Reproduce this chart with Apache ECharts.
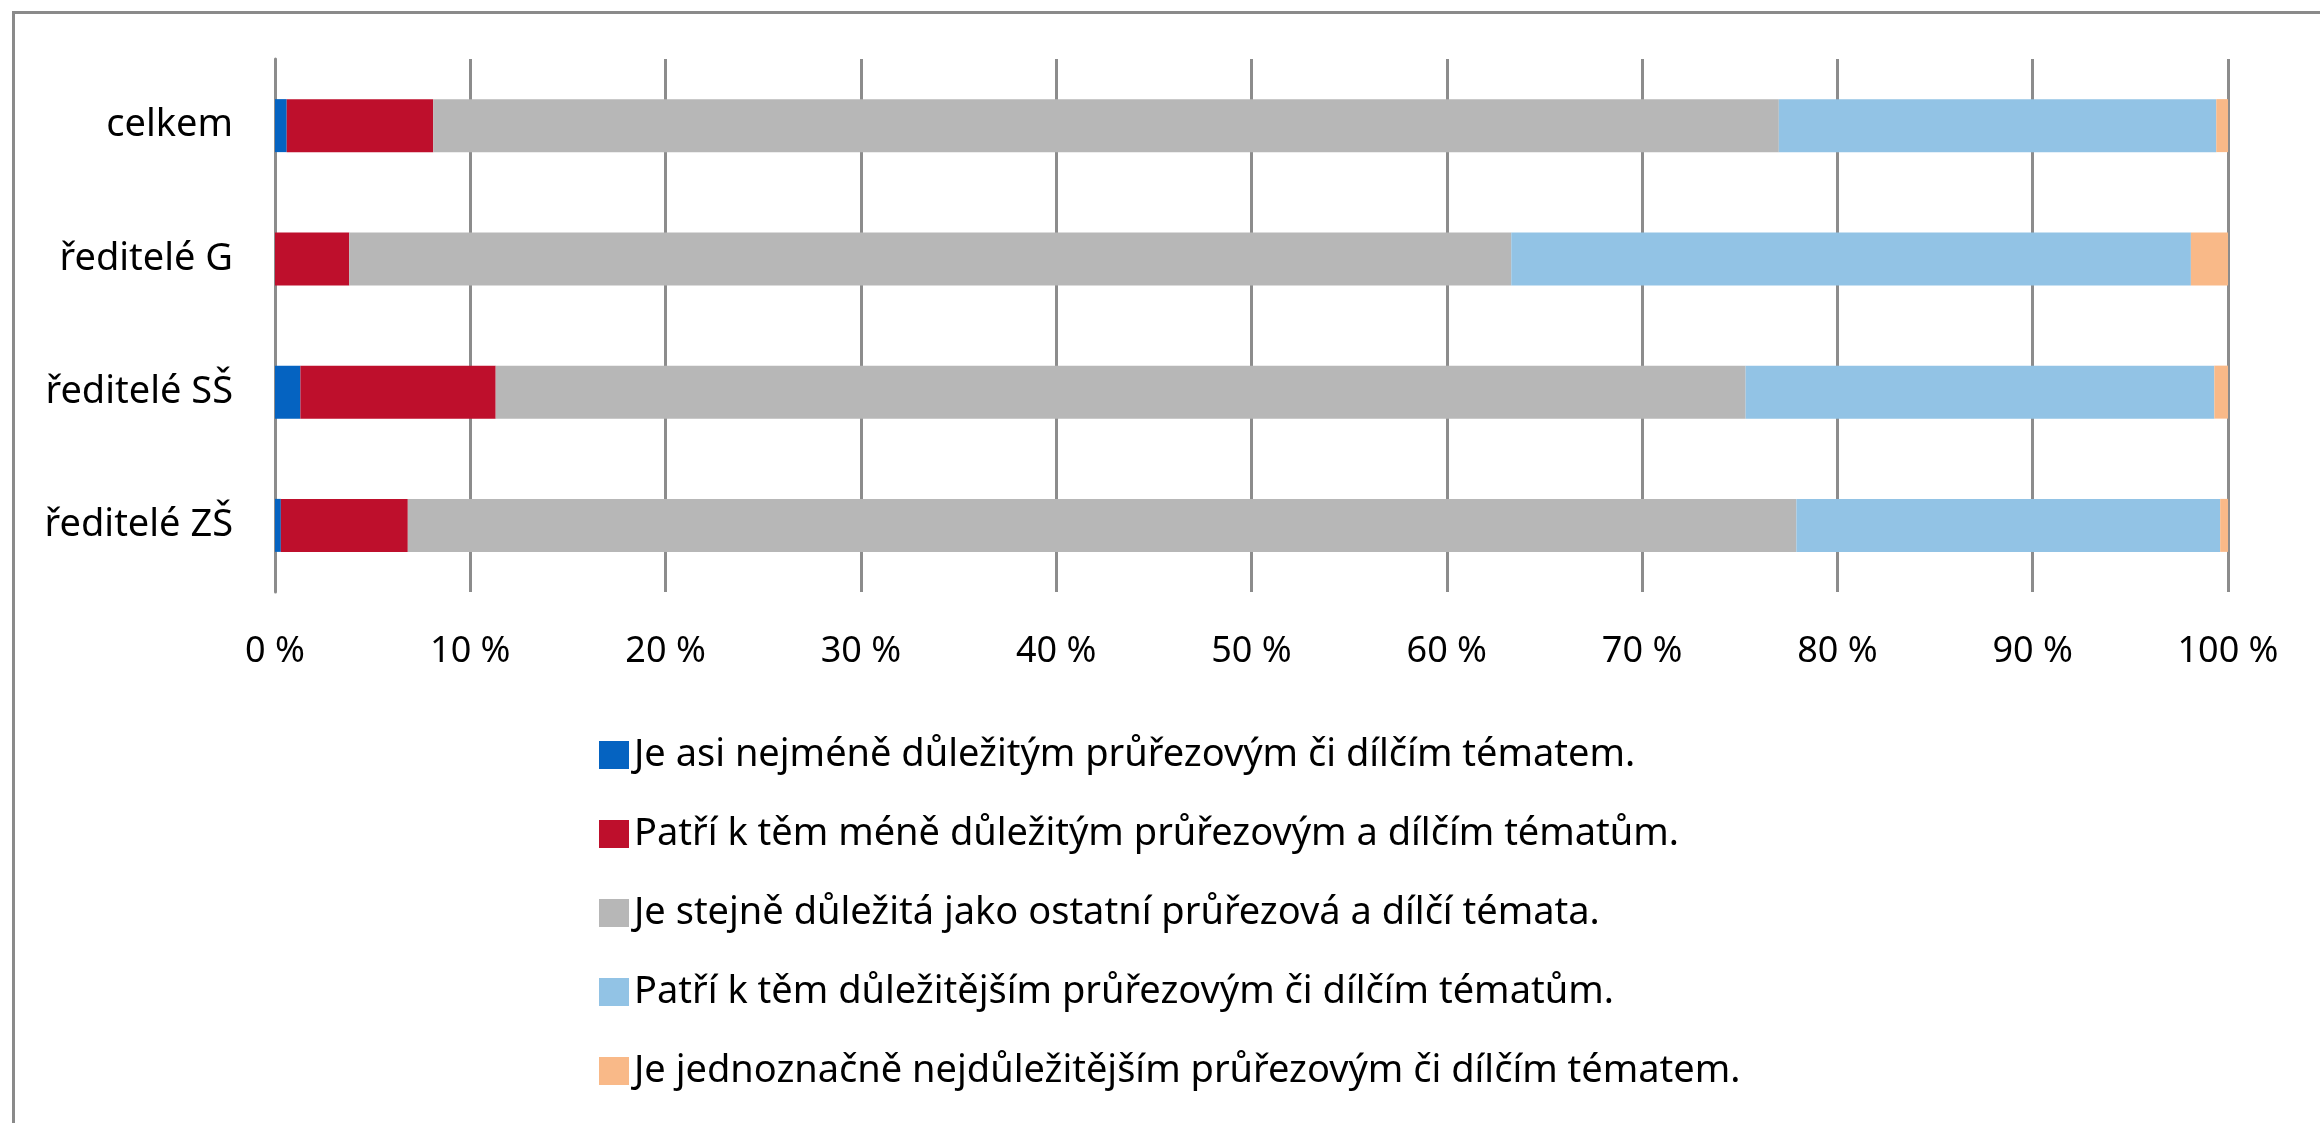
<!DOCTYPE html>
<html>
<head>
<meta charset="utf-8">
<script src="https://cdn.jsdelivr.net/npm/echarts@6/dist/echarts.min.js"></script>
<style>
  html, body { margin: 0; padding: 0; background: #fff; }
  #chart { width: 2320px; height: 1123px; }
</style>
</head>
<body>
<div id="chart"></div>
<script>
// kategorie (shora dolů)
const categories = ['celkem', 'ředitelé G', 'ředitelé SŠ', 'ředitelé ZŠ']

// názvy odpovědí (legenda)
const seriesNames = [
  'Je asi nejméně důležitým průřezovým či dílčím tématem.',
  'Patří k těm méně důležitým průřezovým a dílčím tématům.',
  'Je stejně důležitá jako ostatní průřezová a dílčí témata.',
  'Patří k těm důležitějším průřezovým či dílčím tématům.',
  'Je jednoznačně nejdůležitějším průřezovým či dílčím tématem.'
]

// podíly v %
const nejmeneDulezite = [0.6, 0.0, 1.3, 0.3]
const meneDulezite = [7.5, 3.8, 10.0, 6.5]
const stejneDulezite = [68.9, 59.5, 64.0, 71.1]
const dulezitejsi = [22.4, 34.8, 24.0, 21.7]
const nejdulezitejsi = [0.6, 1.9, 0.7, 0.4]

const colors = ['#0563c1', '#be0f2c', '#b7b7b7', '#92c3e5', '#f9b988']

const seriesData = [nejmeneDulezite, meneDulezite, stejneDulezite, dulezitejsi, nejdulezitejsi]

const FONT = 'Noto Sans'
const chart = echarts.init(document.getElementById('chart'))

chart.setOption({
  backgroundColor: '#fff',
  animation: false,
  color: colors,
  textStyle: { fontFamily: FONT, color: '#000' },
  grid: { left: 275, right: 92, top: 59, bottom: 531 },
  xAxis: {
    type: 'value',
    min: 0,
    max: 100,
    interval: 10,
    axisLine: { show: false },
    axisTick: { show: false },
    splitLine: { lineStyle: { color: '#8c8c8c', width: 3 } },
    axisLabel: {
      formatter: '{value} %',
      fontSize: 36,
      color: '#000',
      margin: 42,
      fontFamily: FONT
    }
  },
  yAxis: {
    type: 'category',
    data: categories,
    inverse: true,
    axisLine: { lineStyle: { color: '#8c8c8c', width: 3 } },
    axisTick: { length: 14, lineStyle: { color: '#8c8c8c', width: 3 } },
    axisLabel: { fontSize: 38, color: '#000', margin: 42, fontFamily: FONT }
  },
  legend: {
    orient: 'vertical',
    left: 594,
    top: 730,
    itemWidth: 30,
    itemHeight: 28,
    itemGap: 39,
    icon: 'rect',
    textStyle: { fontSize: 38, lineHeight: 40, color: '#000', fontFamily: FONT },
    data: seriesNames
  },
  graphic: [{
    type: 'rect',
    shape: { x: 13.5, y: 12.5, width: 2400, height: 1200 },
    style: { fill: null, stroke: '#8a8a8a', lineWidth: 3 },
    silent: true
  }],
  series: seriesNames.map((name, i) => ({
    name,
    type: 'bar',
    stack: 'total',
    barWidth: 53,
    data: seriesData[i],
    itemStyle: { color: colors[i] }
  }))
})
</script>
</body>
</html>
